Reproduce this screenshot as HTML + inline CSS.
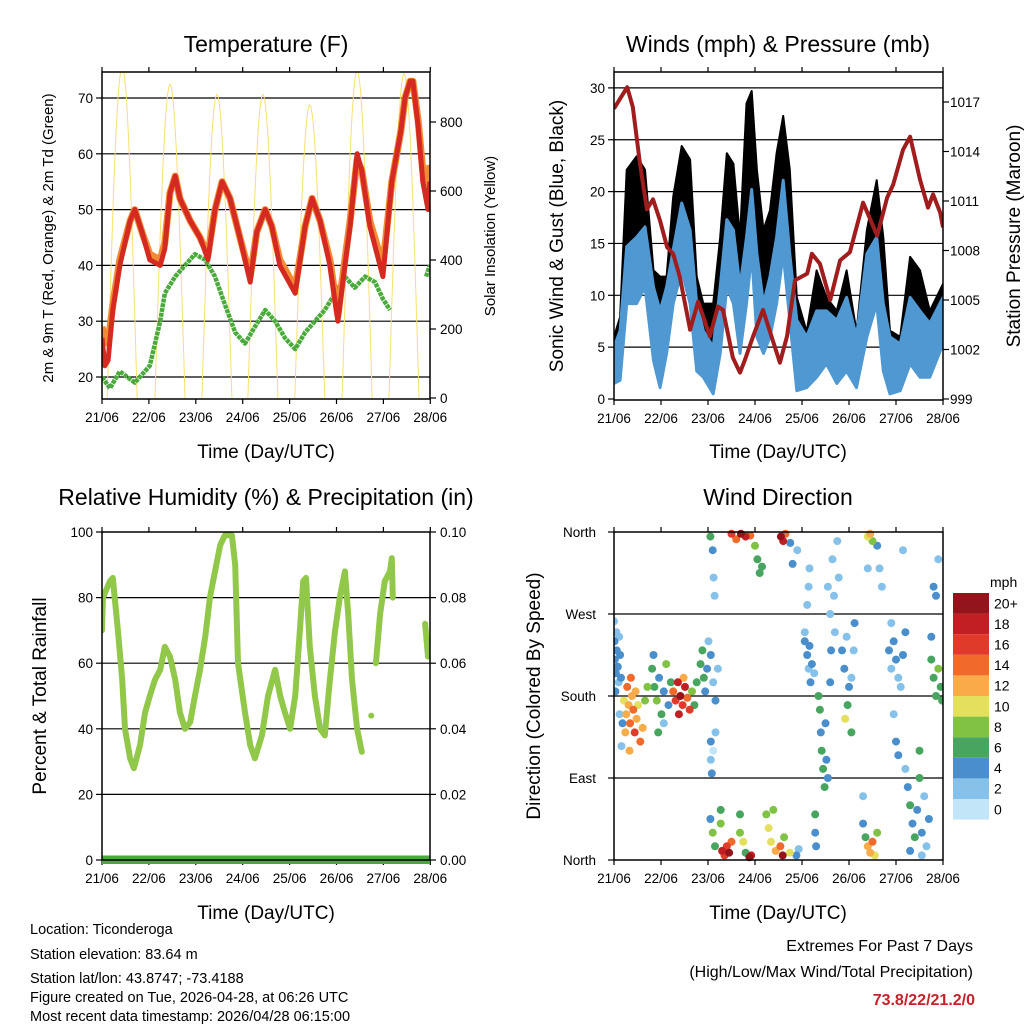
<!DOCTYPE html>
<html><head><meta charset="utf-8"><title>Ticonderoga station weather charts</title>
<style>
html,body{margin:0;padding:0;background:#fff;}
svg{display:block;font-family:"Liberation Sans",Arial,sans-serif;}
</style></head>
<body>
<svg id="fig" width="1024" height="1024" viewBox="0 0 1024 1024" xmlns="http://www.w3.org/2000/svg">
<defs>
<clipPath id="c1"><rect x="102" y="72" width="328" height="327"/></clipPath>
<clipPath id="c2"><rect x="614" y="72" width="329" height="328"/></clipPath>
<clipPath id="c3"><rect x="102" y="528" width="328" height="336"/></clipPath>
<clipPath id="c4"><rect x="614" y="528" width="329" height="336"/></clipPath>
</defs>
<text x="266" y="52" font-size="23" text-anchor="middle">Temperature (F)</text>
<text x="778" y="52" font-size="23" text-anchor="middle">Winds (mph) &amp; Pressure (mb)</text>
<text x="266" y="505" font-size="23" text-anchor="middle">Relative Humidity (%) &amp; Precipitation (in)</text>
<text x="778" y="505" font-size="23" text-anchor="middle">Wind Direction</text>
<text x="266" y="458" font-size="19" text-anchor="middle">Time (Day/UTC)</text>
<text x="778" y="458" font-size="19" text-anchor="middle">Time (Day/UTC)</text>
<text x="266" y="919" font-size="19" text-anchor="middle">Time (Day/UTC)</text>
<text x="778" y="919" font-size="19" text-anchor="middle">Time (Day/UTC)</text>
<text transform="translate(53,238) rotate(-90)" font-size="15" text-anchor="middle">2m &amp; 9m T (Red, Orange) &amp; 2m Td (Green)</text>
<text transform="translate(495,236) rotate(-90)" font-size="15" text-anchor="middle">Solar Insolation (Yellow)</text>
<text transform="translate(563,236) rotate(-90)" font-size="19" text-anchor="middle">Sonic Wind &amp; Gust (Blue, Black)</text>
<text transform="translate(1020,236) rotate(-90)" font-size="19" text-anchor="middle">Station Pressure (Maroon)</text>
<text transform="translate(46,696) rotate(-90)" font-size="19" text-anchor="middle">Percent &amp; Total Rainfall</text>
<text transform="translate(540,696) rotate(-90)" font-size="19" text-anchor="middle">Direction (Colored By Speed)</text>
<g font-size="14.5">
<text x="30" y="934">Location: Ticonderoga</text>
<text x="30" y="959">Station elevation: 83.64 m</text>
<text x="30" y="983">Station lat/lon: 43.8747; -73.4188</text>
<text x="30" y="1002">Figure created on Tue, 2026-04-28, at 06:26 UTC</text>
<text x="30" y="1021">Most recent data timestamp: 2026/04/28 06:15:00</text>
</g>
<g text-anchor="end">
<text x="973" y="951" font-size="16">Extremes For Past 7 Days</text>
<text x="973" y="977" font-size="16">(High/Low/Max Wind/Total Precipitation)</text>
<text x="975" y="1005" font-size="16" font-weight="bold" fill="#c8202a">73.8/22/21.2/0</text>
</g>
<g id="layer"></g>
</svg>
<script>
const dayLabels = ["21/06","22/06","23/06","24/06","25/06","26/06","27/06","28/06"];
const tempTicks = [20,30,40,50,60,70];
const solarTicks = [0,200,400,600,800];
const windTicks = [0,5,10,15,20,25,30];
const presTicks = [999,1002,1005,1008,1011,1014,1017];
const rhTicks = [0,20,40,60,80,100];
const rainTicks = ["0.00","0.02","0.04","0.06","0.08","0.10"];
const dirTickNames = ["North","East","South","West","North"];
const dirTickVals = [0,90,180,270,360];

const tempDays = [0,0.06,0.13,0.23,0.38,0.6,0.7,0.85,1.02,1.24,1.34,1.45,1.56,1.66,1.88,2.09,2.26,2.41,2.56,2.73,2.94,3.16,3.3,3.48,3.62,3.79,4.12,4.33,4.48,4.65,4.86,5.03,5.18,5.29,5.44,5.54,5.71,5.99,6.18,6.37,6.46,6.57,6.63,6.74,6.84,6.95,6.99];
const temp2m = [27,22,23,32,40,48,50,46,41,40,43,53,56,52,48,45,41,50,55,52,45,37,46,50,47,40,35,47,52,48,40,30,40,47,60,57,47,38,55,64,70,73,73,65,55,50,55];
const temp9m = [29,27,26,33,41,48,50,46,42,41,44,53,56,52,48,45,42,50,55,52,45,38,46,50,47,41,36,47,52,48,41,31,41,48,59,57,48,40,55,64,70,73,73,66,57,53,58];
const dewDays = [0,0.17,0.38,0.70,1.02,1.24,1.34,1.56,1.77,1.98,2.2,2.41,2.62,2.84,3.05,3.26,3.48,3.69,3.9,4.12,4.33,4.54,4.75,4.97,5.18,5.39,5.61,5.82,5.99,6.14,null,6.91,6.99];
const dewVals = [20,18,21,19,22,30,35,38,40,42,41,38,33,28,26,29,32,30,27,25,28,30,32,35,38,36,38,37,34,32,null,38,40];
const solarPeakDays = [0.43,1.45,2.45,3.43,4.43,5.44,6.44];
const solarPeakVals = [960,910,880,880,850,950,940];

const windDays = [0,0.13,0.27,0.48,0.66,0.84,0.98,1.12,1.26,1.44,1.62,1.76,1.90,2.11,2.26,2.40,2.54,2.68,2.82,2.93,3.04,3.18,3.32,3.46,3.60,3.74,3.89,4.10,4.31,4.52,4.74,4.95,5.16,5.38,5.59,5.73,5.87,6.09,6.30,6.51,6.72,7.0];
const windHi = [5.0,6.6,14.7,15.6,16.6,10.8,8.5,10.8,14.4,18.9,16.3,9.2,6.6,5.0,10.8,17.3,16.3,10.8,15.6,20.2,14.0,9.2,11.8,15.6,21.1,14.0,7.6,6.0,8.5,8.5,7.6,9.8,6.0,14.0,15.6,9.2,6.0,5.3,9.8,8.5,7.3,9.8];
const windLo = [1.5,1.8,9.2,9.2,10.8,3.7,1.1,4.4,9.2,12.4,9.2,2.7,2.1,0.5,4.4,10.8,9.2,4.4,9.2,14.0,6.0,4.4,6.0,9.2,14.0,7.6,0.8,1.1,2.1,3.4,1.5,2.7,1.1,6.0,9.2,2.7,0.5,0.8,3.4,2.1,2.1,5.3];
const gustHi = [6.0,7.9,22.1,23.4,22.1,12.4,11.8,11.8,19.5,24.4,23.1,11.8,9.2,9.2,15.6,23.7,22.7,15.6,28.5,29.7,22.1,16.3,18.2,23.7,27.3,22.1,9.8,6.5,12.4,9.8,8.5,12.4,6.5,16.3,21.1,15.6,6.6,6.0,13.7,12.4,8.5,11.1];
const presDays = [0,0.28,0.40,0.55,0.70,0.83,0.98,1.13,1.26,1.40,1.62,1.79,2.04,2.21,2.32,2.53,2.68,2.79,2.96,3.17,3.53,3.68,3.85,4.11,4.21,4.38,4.60,4.81,5.02,5.30,5.60,5.81,5.94,6.15,6.30,6.51,6.68,6.79,6.94,7.0];
const presVals = [1016.6,1017.9,1016.7,1013.3,1010.5,1011.1,1009.8,1008.2,1007.8,1006.4,1003.2,1004.9,1002.8,1004.6,1004.4,1001.5,1000.6,1001.4,1002.8,1004.4,1001.2,1002.8,1006.2,1006.6,1007.8,1007.2,1005.0,1007.4,1007.9,1010.9,1008.9,1011.2,1012.0,1014.1,1014.9,1012.3,1010.6,1011.4,1010.3,1009.4];

const rhDays = [0,0.02,0.17,0.23,0.34,0.43,0.49,0.6,0.68,0.81,0.92,1.02,1.13,1.24,1.34,1.45,1.56,1.66,1.77,1.88,1.98,2.09,2.2,2.3,2.41,2.52,2.62,2.77,2.84,2.9,3.05,3.16,3.26,3.41,3.54,3.69,3.8,3.9,4.01,4.12,4.22,4.29,4.35,4.43,4.54,4.65,4.75,4.86,4.97,5.07,5.18,5.25,5.33,5.44,5.54,null,5.84,5.93,6.03,6.14,6.18,6.2,null,6.89,6.95];
const rhVals = [70,80,85,86,70,55,40,31,28,35,45,50,55,58,65,62,55,45,40,42,50,58,68,80,88,96,99,99,90,60,45,35,31,38,50,58,50,45,40,50,70,85,86,65,50,40,38,55,70,80,88,75,55,40,33,null,60,75,85,88,92,80,null,72,62];
const rhIsoDays = [5.74];
const rhIsoVals = [44];
const rainDays = [0,7];
const rainVals = [0,0];

const dirDays = [
0.0,0.01,0.02,0.04,0.05,0.06,0.08,0.1,0.11,0.13,0.15,0.03,0.12,0.18,0.16,
0.21,0.26,0.28,0.31,0.34,0.36,0.38,0.41,0.44,0.46,0.48,0.51,0.56,0.61,0.66,0.24,0.33,0.71,
0.81,0.86,0.91,0.96,1.01,1.06,1.11,1.16,1.21,0.84,1.06,0.94,
1.26,1.31,1.36,1.41,1.46,1.51,1.56,1.61,1.38,1.48,1.66,1.71,1.76,
1.84,1.88,1.91,1.94,1.98,2.01,2.06,2.11,2.16,2.21,
2.06,2.06,2.08,2.11,2.16,
2.05,2.1,2.15,2.3,2.35,2.4,2.45,2.5,2.27,2.27,2.68,2.68,2.75,2.88,2.92,2.8,
3.24,3.29,3.34,3.39,3.44,3.54,3.59,3.62,3.74,3.88,3.93,
2.05,2.1,2.5,2.6,2.7,2.8,2.9,3.0,3.05,3.1,3.15,3.55,3.6,3.65,3.75,3.8,3.9,2.12,2.14,
4.06,4.11,4.14,4.16,4.21,4.26,4.06,4.18,4.11,4.16,4.14,
4.35,4.38,4.4,4.42,4.45,4.48,4.5,4.52,4.28,4.28,4.3,4.55,4.6,
4.55,4.6,4.65,4.68,4.7,4.75,4.78,4.62,
4.85,4.9,4.95,5.0,5.05,4.92,4.97,5.05,5.1,5.12,
5.3,5.35,5.4,5.45,5.5,5.55,5.6,5.4,5.45,5.5,5.6,5.3,5.65,5.7,5.4,
5.85,5.9,5.95,6.0,6.05,6.1,5.95,6.0,6.05,5.9,6.15,6.2,6.15,
6.2,6.25,6.3,6.35,6.4,6.45,6.5,6.55,6.6,6.65,6.7,6.3,6.5,6.55,
6.75,6.8,6.85,6.9,6.95,6.98,6.75,6.8,6.85,6.9];
const dirVals = [
262,240,220,205,250,230,212,195,245,225,200,185,160,150,125,
175,160,190,170,150,200,180,165,140,185,155,170,130,145,175,140,120,190,
210,190,175,200,160,185,215,170,195,225,150,140,
185,175,195,180,170,190,178,165,160,200,185,170,195,
215,230,200,185,210,240,225,195,175,210,
130,110,95,120,140,
45,30,15,10,5,15,8,20,40,55,30,50,20,3,5,8,
50,35,20,55,10,15,5,25,8,5,12,
355,340,358,352,358,355,356,345,330,315,322,355,350,358,348,325,340,310,290,
240,225,210,235,215,205,250,195,280,320,300,
180,165,140,120,100,80,150,110,50,30,15,90,195,
300,270,330,290,250,350,310,230,
230,210,245,190,200,155,170,140,230,260,
40,25,15,8,20,5,30,355,358,350,345,70,320,300,320,
230,210,240,220,200,190,160,130,115,260,225,250,340,
100,80,60,40,25,55,90,30,70,15,45,10,120,5,
220,200,180,210,190,175,245,300,290,330];
const dirSpeeds = [
3,4,4,5,2,4,4,3,3,5,4,4,3,4,2,
10,12,14,13,15,14,12,14,16,13,12,11,14,12,9,12,12,8,
7,6,8,4,7,4,8,4,7,4,3,6,
15,17,18,20,16,19,14,17,18,12,8,6,7,
7,6,7,5,4,3,4,3,4,3,
4,3,4,1,3,
4,8,6,18,16,17,20,14,8,7,8,6,10,20,18,7,
8,10,10,8,12,14,20,9,10,4,3,
6,4,16,14,20,18,14,8,7,6,7,20,18,15,4,4,3,2,3,
4,4,3,4,4,3,2,4,3,2,3,
6,7,5,6,7,6,4,4,6,5,4,4,4,
3,2,2,3,2,3,2,5,
4,4,3,4,3,10,7,6,2,4,
5,6,12,13,14,11,8,10,13,8,4,2,2,2,2,
4,3,4,4,3,2,3,4,4,3,4,5,2,
3,4,6,5,7,4,6,4,3,3,4,5,6,3,
6,7,6,8,7,6,4,5,4,2];
const speedLabels = ["0","2","4","6","8","10","12","14","16","18","20+"];
const speedColors = ["#c3e5f8","#86c1ea","#4a8fcb","#48a55f","#80c243","#e4df5c","#f8ab48","#ef6a2b","#e03b2a","#c21f25","#93141a"];

const x1 = d => 102 + 46.9 * d;
const yT = t => 377 - (t - 20) * 5.58;
const yS = s => 398 - s * 0.345;
const x2 = d => 614 + 47 * d;
const yW = v => 399 - v * 10.37;
const yP = p => 399 - (p - 999) * 16.5;
const yRH = v => 860 - v * 3.28;
const yR = r => 860 - r * 3280;
const yD = a => 860 - a * 0.9111;

const NS = "http://www.w3.org/2000/svg";
const layer = document.getElementById("layer");
function mk(tag, attrs, parent) {
  const e = document.createElementNS(NS, tag);
  for (const k in attrs) e.setAttribute(k, attrs[k]);
  (parent || layer).appendChild(e);
  return e;
}
function pathFrom(days, vals, fx, fy) {
  let d = "", pen = false;
  for (let i = 0; i < days.length; i++) {
    if (days[i] === null || vals[i] === null) { pen = false; continue; }
    d += (pen ? "L" : "M") + fx(days[i]).toFixed(1) + "," + fy(vals[i]).toFixed(1);
    pen = true;
  }
  return d;
}
function txt(x, y, s, size, anchor, parent) {
  const t = mk("text", {x: x, y: y, "font-size": size, "text-anchor": anchor}, parent);
  t.textContent = s;
  return t;
}
function panel(name, L, T, R, B, xf, gridYs) {
  const g = mk("g", {});
  
  
  gridYs.forEach(y => {
    const ln = mk("line", {x1: L, x2: R, y1: y, y2: y, stroke: "#000", "stroke-width": 1.2}, g);
    
    
  });
  for (let i = 0; i < 8; i++) {
    const x = xf(i);
    mk("line", {x1: x, x2: x, y1: B, y2: B + 5, stroke: "#000", "stroke-width": 1.2}, g);
    mk("line", {x1: x, x2: x, y1: T, y2: T - 5, stroke: "#000", "stroke-width": 1.2}, g);
    const lab = txt(x, B + 23, dayLabels[i], 13.5, "middle", g);
    
    
  }
  return g;
}
function frame(name, L, T, R, B) {
  const r = mk("rect", {x: L, y: T, width: R - L, height: B - T, fill: "none", stroke: "#000", "stroke-width": 1.5});
  
  
}
function yTicks(name, vals, labels, fy, xEdge, dir, labelX, anchor) {
  const g = mk("g", {});
  
  
  vals.forEach((v, i) => {
    const y = fy(v);
    mk("line", {x1: xEdge, x2: xEdge + dir * 6, y1: y, y2: y, stroke: "#000", "stroke-width": 1.2}, g);
    txt(labelX, y + 5, labels[i], 13.5, anchor, g);
  });
}

panel("temperature", 102, 72, 430, 399, x1, tempTicks.map(yT));
yTicks("temp-left-ticks", tempTicks, tempTicks.map(String), yT, 102, -1, 93, "end");
yTicks("solar-right-ticks", solarTicks, solarTicks.map(String), yS, 430, 1, 440, "start");
panel("winds", 614, 72, 943, 400, x2, windTicks.slice(1).map(yW));
yTicks("wind-left-ticks", windTicks, windTicks.map(String), yW, 614, -1, 605, "end");
yTicks("pressure-right-ticks", presTicks, presTicks.map(String), yP, 943, 1, 950, "start");
panel("humidity", 102, 532, 430, 860, x1, rhTicks.slice(1, 5).map(yRH));
yTicks("rh-left-ticks", rhTicks, rhTicks.map(String), yRH, 102, -1, 93, "end");
yTicks("rain-right-ticks", rainTicks.map(Number), rainTicks, yR, 430, 1, 440, "start");
panel("direction", 614, 532, 943, 860, x2, dirTickVals.slice(1, 4).map(yD));
yTicks("direction-left-ticks", dirTickVals, dirTickNames, yD, 614, -1, 596, "end");

const g1 = mk("g", {"clip-path": "url(#c1)"});


solarPeakDays.forEach((pd, i) => {
  let d = "";
  for (let k = 0; k <= 24; k++) {
    const t = pd - 0.32 + k * (0.64 / 24);
    const v = solarPeakVals[i] * Math.sin(Math.PI * k / 24);
    d += (k ? "L" : "M") + x1(t).toFixed(1) + "," + yS(v).toFixed(1);
  }
  const p = mk("path", {d: d, fill: "none", stroke: "#f8e070", "stroke-width": 1}, g1);
  
  
});
const dewP = mk("path", {d: pathFrom(dewDays, dewVals, x1, yT), fill: "none", stroke: "#4aaa3c", "stroke-width": 4.5, "stroke-dasharray": "4 0.8", "stroke-linejoin": "round"}, g1);


const t9 = mk("path", {d: pathFrom(tempDays, temp9m, x1, yT), fill: "none", stroke: "#f28a33", "stroke-width": 7, "stroke-linejoin": "round"}, g1);


const t2 = mk("path", {d: pathFrom(tempDays, temp2m, x1, yT), fill: "none", stroke: "#d42a22", "stroke-width": 5, "stroke-linejoin": "round"}, g1);


frame("temperature", 102, 72, 430, 399);

const g2 = mk("g", {"clip-path": "url(#c2)"});


function band(days, lo, hi, fx, fy) {
  let d = "";
  for (let i = 0; i < days.length; i++) d += (i ? "L" : "M") + fx(days[i]).toFixed(1) + "," + fy(hi[i]).toFixed(1);
  for (let i = days.length - 1; i >= 0; i--) d += "L" + fx(days[i]).toFixed(1) + "," + fy(lo[i]).toFixed(1);
  return d + "Z";
}
const gb = mk("path", {d: band(windDays, windLo, gustHi, x2, yW), fill: "#000", stroke: "#000", "stroke-width": 2, "stroke-linejoin": "round"}, g2);


const wb = mk("path", {d: band(windDays, windLo, windHi, x2, yW), fill: "#4f98d2", stroke: "#4f98d2", "stroke-width": 3, "stroke-linejoin": "round"}, g2);


const pl = mk("path", {d: pathFrom(presDays, presVals, x2, yP), fill: "none", stroke: "#a11d1d", "stroke-width": 4, "stroke-linejoin": "round"}, g2);


frame("winds", 614, 72, 943, 400);

const g3 = mk("g", {"clip-path": "url(#c3)"});


const rl = mk("path", {d: pathFrom(rainDays, rainVals, x1, yR), fill: "none", stroke: "#4aa83c", "stroke-width": 9}, g3);


const rh = mk("path", {d: pathFrom(rhDays, rhVals, x1, yRH), fill: "none", stroke: "#92c84a", "stroke-width": 6, "stroke-linejoin": "round", "stroke-linecap": "round"}, g3);


rhIsoDays.forEach((d, i) => {
  const c = mk("circle", {cx: x1(d), cy: yRH(rhIsoVals[i]), r: 3, fill: "#92c84a"}, g3);
  
  
});
frame("humidity", 102, 532, 430, 860);

const g4 = mk("g", {"clip-path": "url(#c4)"});


const order = dirDays.map((_, i) => i).sort((a, b) => dirSpeeds[a] - dirSpeeds[b]);
order.forEach(i => {
  if (dirVals[i] === undefined || dirSpeeds[i] === undefined) return;
  const ci = Math.max(0, Math.min(10, Math.floor(dirSpeeds[i] / 2)));
  const c = mk("circle", {cx: x2(dirDays[i]).toFixed(1), cy: yD(dirVals[i]).toFixed(1), r: 4, fill: speedColors[ci]}, g4);
  
  
});
frame("direction", 614, 532, 943, 860);

const cb = mk("g", {});


const cbTop = 593, cbH = 20.6;
speedLabels.forEach((lab, i) => {
  const y = cbTop + (10 - i) * cbH;
  const r = mk("rect", {x: 953, y: y, width: 36, height: cbH, fill: speedColors[i]}, cb);
  
  
  const t = txt(994, y + cbH / 2 + 5, lab, 14, "start", cb);
  
  
});
const mph = txt(990, 587, "mph", 14, "start", cb);


</script>
</body></html>
